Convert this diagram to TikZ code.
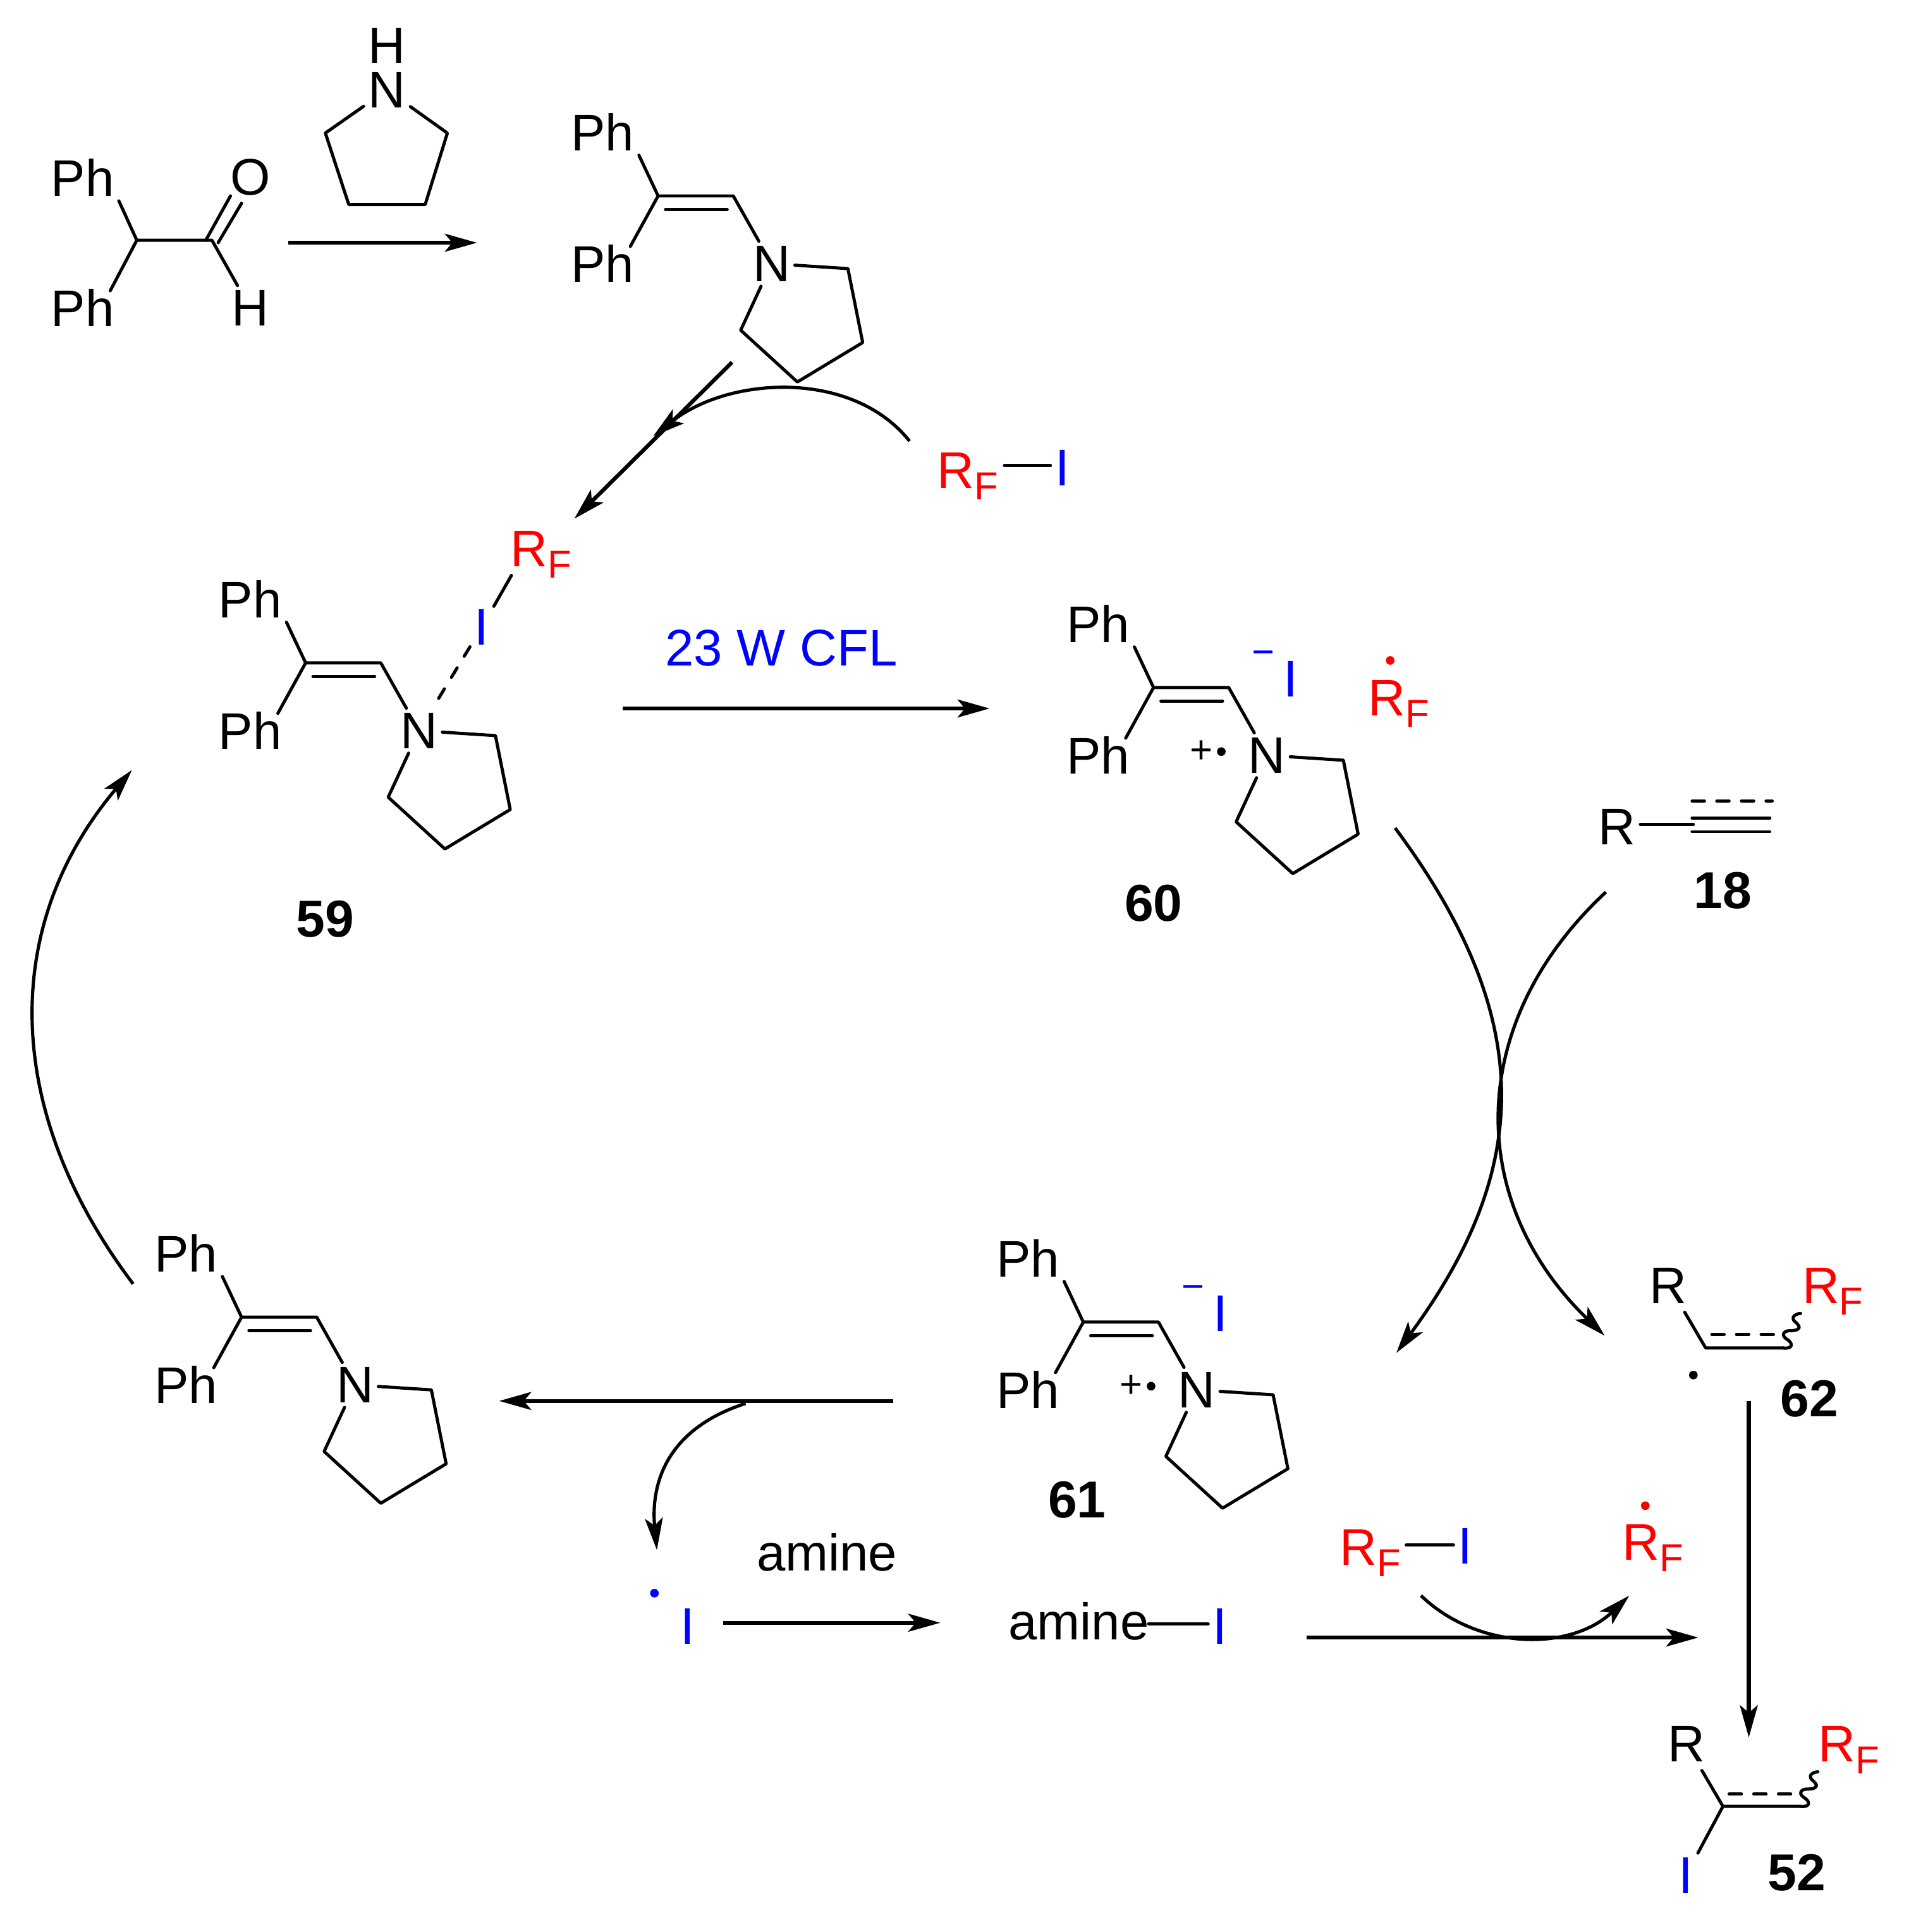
\documentclass[tikz,border=0pt]{standalone}
\usepackage{fontspec}
\setmainfont{Liberation Sans}
\usetikzlibrary{arrows.meta,calc}

\newcommand{\atomfont}{\fontsize{23.8}{28}\selectfont}
\newcommand{\subfont}{\fontsize{18}{20}\selectfont}
\newcommand{\RF}{R\raisebox{-5.3pt}{\subfont F}}

% enamine skeleton, placed by its nitrogen
\newcommand{\enamine}[2]{
    \begin{scope}[shift={(#2)}]
        \node[atom] (#1_n) at (0,0) {N};
        \node[atom] (#1_up) at (-137,-107) {Ph};
        \node[atom] (#1_low) at (-137,0) {Ph};
        \coordinate (#1_a) at (-92,-55);
        \coordinate (#1_b) at (-31,-55);
        \coordinate (#1_r1) at (62,4);
        \coordinate (#1_r2) at (74,64);
        \coordinate (#1_r3) at (21,96);
        \coordinate (#1_r4) at (-25,54);
        \coordinate (#1_d1) at (-86,-44);
        \coordinate (#1_d2) at (-36,-44);
        \draw[bond] (#1_up.south east) -- (#1_a) -- ($(#1_low.north east)+(-7,5)$);
        \draw[bond] (#1_a) -- (#1_b) -- (#1_n);
        \draw[bond] (#1_d1) -- (#1_d2);
        \draw[bond] (#1_n) -- (#1_r1) -- (#1_r2) -- (#1_r3) -- (#1_r4) -- (#1_n);
    \end{scope}
}

% the iodide and the radical cation mark beside an enamine
\newcommand{\ionmarks}[2]{
    \begin{scope}[shift={(#2)}]
        \node[atom, text=blue] (#1_i) at (19.5,-62) {I};
        \node[charge, text=blue] (#1_minus) at (-3,-79) {−};
        \node[charge] (#1_plus) at (-53,-3) {+};
        \node[radical] (#1_dot) at (-37,-3) {};
    \end{scope}
}

% wavy bond going up and right from a vinyl carbon
\newcommand{\squiggle}[1]{
    \begin{scope}[shift={(#1)}]
        \draw[bond] (0,0) .. controls (8,1) and (8,-4) .. (3,-7)
            .. controls (-2,-10) and (0,-14) .. (5,-14)
            .. controls (10,-14) and (14,-15) .. (12.5,-18)
            .. controls (11,-21) and (7,-22) .. (8,-25)
            .. controls (9,-27) and (12,-28) .. (14,-28);
    \end{scope}
}

\begin{document}
\begin{tikzpicture}[
        x=0.02cm, y=-0.02cm,
        atom/.style={font=\atomfont, inner sep=2pt},
        fluoro/.style={font=\atomfont, text=red, inner sep=0pt, anchor=base west},
        charge/.style={font=\fontsize{18}{20}\selectfont, inner sep=0pt},
        radical/.style={circle, fill, inner sep=0pt, minimum size=0.14cm},
        number/.style={font=\fontsize{24}{28}\selectfont\bfseries, inner sep=0pt},
        bond/.style={line width=1.45pt, line cap=round, line join=round},
        dashbond/.style={line width=1.45pt, line cap=round, dash pattern=on 2mm off 2mm},
        rxn/.style={line width=1.8pt, -{Stealth[length=5.2mm, width=2.9mm, inset=1.2mm]}},
        curly/.style={line width=1.5pt, -{Stealth[length=5.2mm, width=2.9mm, inset=1.2mm]}}
    ]
        \useasboundingbox (0,0) rectangle (1564,1568);

        % Starting aldehyde
        \node[atom] (ald_up) at (67,144) {Ph};
        \node[atom] (ald_low) at (67,250) {Ph};
        \node[atom] (ald_o) at (203,144) {O};
        \node[atom] (ald_h) at (203,250) {H};
        \coordinate (ald_a) at (111,195);
        \coordinate (ald_c) at (172,195);
        \coordinate (ald_d1) at (167,195);
        \coordinate (ald_d2) at (187,159);
        \coordinate (ald_d3) at (177,197);
        \coordinate (ald_d4) at (196,165);
        \draw[bond] (ald_up.south east) -- (ald_a) -- ($(ald_low.north east)+(-7,5)$);
        \draw[bond] (ald_a) -- (ald_c) -- (ald_h);
        \draw[bond] (ald_d1) -- (ald_d2);
        \draw[bond] (ald_d3) -- (ald_d4);

        % Pyrrolidine
        \node[atom, inner sep=0pt] (pyr_h) at (314,37) {H};
        \node[atom] (pyr_n) at (314,73) {N};
        \coordinate (pyr_r1) at (363,108);
        \coordinate (pyr_r2) at (345,166);
        \coordinate (pyr_r3) at (283,166);
        \coordinate (pyr_r4) at (264,108);
        \draw[bond] (pyr_n) -- (pyr_r1) -- (pyr_r2) -- (pyr_r3) -- (pyr_r4) -- (pyr_n);

        % Enamines around the cycle
        \enamine{top}{626,214}
        \enamine{ea}{340,593}
        \enamine{eb}{1028,613}
        \enamine{ec}{971,1128}
        \enamine{ed}{288,1124}
        \ionmarks{eb}{1028,613}
        \ionmarks{ec}{971,1128}

        % Halogen bonded complex
        \node[fluoro] (ea_rf) at (414,460) {\RF};
        \node[atom, text=blue] (ea_i) at (391,509) {I};
        \coordinate (ea_rfb) at (415,467);
        \draw[bond] (ea_rfb) -- (ea_i);
        \draw[dashbond, dash pattern=on 1.8mm off 2.2mm] (ea_i) -- (ea_n);

        % Perfluoroalkyl iodide, top
        \node[fluoro] (top_rf) at (760,396) {\RF};
        \node[atom, text=blue] (top_i) at (862,380) {I};
        \coordinate (top_b) at (815,378);
        \draw[bond] (top_b) -- (top_b -| top_i.west);

        % Radical next to 60
        \node[fluoro] (eb_rf) at (1110,581) {\RF};
        \node[radical, fill=red] (eb_rfdot) at (1128,536) {};

        % Alkyne 18
        \node[atom] (alk_r) at (1312,671) {R};
        \coordinate (alk_a) at (1374,669);
        \coordinate (alk_t1) at (1373,650);
        \coordinate (alk_t2) at (1438,650);
        \coordinate (alk_m1) at (1373,664);
        \coordinate (alk_m2) at (1436,664);
        \coordinate (alk_l1) at (1373,675);
        \coordinate (alk_l2) at (1436,675);
        \draw[bond] (alk_r.east |- alk_a) -- (alk_a);
        \draw[dashbond] (alk_t1) -- (alk_t2);
        \draw[bond] (alk_m1) -- (alk_m2);
        \draw[bond] (alk_l1) -- (alk_l2);

        % Radical 62
        \node[atom, anchor=base west, inner sep=0pt] (vin_r) at (1338,1058) {R};
        \node[fluoro] (vin_rf) at (1462,1058) {\RF};
        \node[radical] (vin_dot) at (1374,1116) {};
        \coordinate (vin_s) at (1367,1065);
        \coordinate (vin_a) at (1384,1094);
        \coordinate (vin_b) at (1447,1094);
        \coordinate (vin_d1) at (1389,1083);
        \coordinate (vin_d2) at (1441,1083);
        \draw[bond] (vin_s) -- (vin_a) -- (vin_b);
        \draw[dashbond] (vin_d1) -- (vin_d2);
        \squiggle{1447,1094}

        % Product 52
        \node[atom, anchor=base west, inner sep=0pt] (pro_r) at (1353,1430) {R};
        \node[fluoro] (pro_rf) at (1475,1430) {\RF};
        \node[atom, text=blue] (pro_i) at (1368,1522) {I};
        \coordinate (pro_s) at (1381,1437);
        \coordinate (pro_a) at (1398,1466);
        \coordinate (pro_b) at (1461,1466);
        \coordinate (pro_d1) at (1403,1456);
        \coordinate (pro_d2) at (1456,1456);
        \draw[bond] (pro_s) -- (pro_a) -- (pro_b);
        \draw[bond] (pro_a) -- (pro_i);
        \draw[dashbond] (pro_d1) -- (pro_d2);
        \squiggle{1461,1466}

        % Iodine pieces at the bottom
        \node[atom, text=blue] (rad_i) at (558,1320) {I};
        \node[radical, fill=blue] (rad_dot) at (531,1293) {};
        \node[atom, inner sep=0pt] (amine_top) at (671,1260) {amine};
        \node[atom, inner sep=0pt, anchor=base west] (amine_n) at (818,1331) {amine};
        \node[atom, text=blue] (amine_i) at (990,1320) {I};
        \coordinate (amine_b) at (932,1318);
        \draw[bond] (amine_b) -- (amine_b -| amine_i.west);

        % Second iodide and radical
        \node[fluoro] (low_rf) at (1087,1270) {\RF};
        \node[atom, text=blue] (low_i) at (1189,1255) {I};
        \coordinate (low_b) at (1141,1254);
        \draw[bond] (low_b) -- (low_b -| low_i.west);
        \node[fluoro] (out_rf) at (1316,1266) {\RF};
        \node[radical, fill=red] (out_dot) at (1335,1222) {};

        % Compound numbers
        \node[number] (num59) at (264,746) {59};
        \node[number] (num60) at (936,733) {60};
        \node[number] (num61) at (874,1217) {61};
        \node[number] (num18) at (1398,723) {18};
        \node[number] (num62) at (1468,1135) {62};
        \node[number] (num52) at (1458,1520) {52};

        % Light label
        \node[atom, text=blue, inner sep=0pt] (cfl) at (634,526) {23 W CFL};

        % Ends of the arrows
        \coordinate (a1s) at (234,197);
        \coordinate (a1e) at (387,197);
        \coordinate (a2s) at (594,294);
        \coordinate (a2e) at (466,421);
        \coordinate (c1s) at (738,358);
        \coordinate (c1e) at (530,354);
        \coordinate (a3s) at (505,575);
        \coordinate (a3e) at (803,575);
        \coordinate (c2s) at (108,1042);
        \coordinate (c2e) at (107,625);
        \coordinate (c3s) at (1132,672);
        \coordinate (c3e) at (1133,1098);
        \coordinate (c4s) at (1303,724);
        \coordinate (c4e) at (1302,1084);
        \coordinate (a4s) at (725,1137);
        \coordinate (a4e) at (405,1137);
        \coordinate (c5s) at (605,1139);
        \coordinate (c5e) at (533,1258);
        \coordinate (a5s) at (587,1317);
        \coordinate (a5e) at (763,1317);
        \coordinate (a6s) at (1060,1329);
        \coordinate (a6e) at (1378,1329);
        \coordinate (c6s) at (1153,1295);
        \coordinate (c6e) at (1322,1295);
        \coordinate (a7s) at (1419,1137);
        \coordinate (a7e) at (1419,1410);

        % Straight arrows
        \draw[rxn] (a1s) -- (a1e);
        \draw[rxn] (a2s) -- (a2e);
        \draw[rxn] (a3s) -- (a3e);
        \draw[rxn] (a4s) -- (a4e);
        \draw[rxn] (a5s) -- (a5e);
        \draw[rxn] (a6s) -- (a6e);
        \draw[rxn] (a7s) -- (a7e);

        % Curved arrows
        \draw[curly] (c1s) .. controls (692,300) and (592,305) .. (c1e);
        \draw[curly] (c2s) .. controls (1,900) and (1,750) .. (c2e);
        \draw[curly] (c3s) .. controls (1245,824) and (1245,946) .. (c3e);
        \draw[curly] (c4s) .. controls (1189,830) and (1189,975) .. (c4e);
        \draw[curly] (c5s) .. controls (540,1160) and (528,1205) .. (c5e);
        \draw[curly] (c6s) .. controls (1200,1340) and (1275,1340) .. (c6e);

    \end{tikzpicture}
\end{document}
